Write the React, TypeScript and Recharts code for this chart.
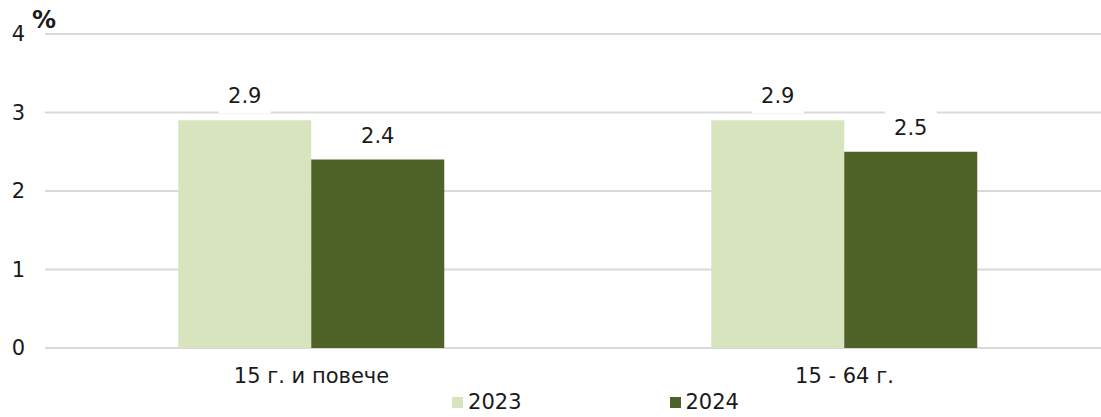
import { BarChart, Bar, XAxis, YAxis, CartesianGrid, Legend, LabelList } from "recharts";

const categories = ["15 г. и повече", "15 - 64 г."];
const values2023 = [2.9, 2.9];
const values2024 = [2.4, 2.5];
const yTicks = [0, 1, 2, 3, 4];
const seriesNames = ["2023", "2024"];

const data = categories.map((name, i) => ({
  name,
  v2023: values2023[i],
  v2024: values2024[i],
}));

const FONT = "'DejaVu Sans', Verdana, sans-serif";
const TEXT = "#1a1a1a";
const LIGHT = "#d7e4bd";
const DARK = "#4f6228";
const FS = 21;

const ValueLabel = (props: any) => {
  const { x, y, width, value } = props;
  const cx = Number(x) + Number(width) / 2;
  const cy = Number(y) - 24;
  return (
    <g>
      <rect x={cx - 26} y={cy - 17} width={52} height={34} fill="#fff" />
      <text
        x={cx}
        y={cy}
        textAnchor="middle"
        dominantBaseline="central"
        fontSize={FS}
        fontFamily={FONT}
        fill={TEXT}
      >
        {Number(value).toFixed(1)}
      </text>
    </g>
  );
};

const LegendContent = () => (
  <div
    style={{
      display: "flex",
      justifyContent: "center",
      paddingLeft: 80,
      gap: 148,
      fontFamily: FONT,
      fontSize: FS,
      color: TEXT,
      lineHeight: "29px",
    }}
  >
    {seriesNames.map((s, i) => (
      <div key={s} style={{ display: "flex", alignItems: "center" }}>
        <span
          style={{
            display: "inline-block",
            width: 11,
            height: 11,
            background: i === 0 ? LIGHT : DARK,
            marginRight: 5,
          }}
        />
        {s}
      </div>
    ))}
  </div>
);

export default function App() {
  return (
    <div
      style={{
        position: "absolute",
        left: 0,
        top: 0,
        width: 1101,
        height: 417,
        overflow: "hidden",
        background: "#fff",
      }}
    >
      <BarChart
        width={1111}
        height={417}
        data={data}
        margin={{ top: 34, right: 0, bottom: 0, left: 0 }}
        barCategoryGap="25%"
        barGap={0}
      >
        <CartesianGrid vertical={false} stroke="#d9d9d9" strokeWidth={2} />
        <XAxis
          dataKey="name"
          axisLine={false}
          tickLine={false}
          tickSize={0}
          tickMargin={20}
          height={40}
          tick={{ fill: TEXT, fontSize: FS, fontFamily: FONT }}
        />
        <YAxis
          domain={[0, 4]}
          ticks={yTicks}
          axisLine={false}
          tickLine={false}
          tickSize={0}
          tickMargin={20}
          width={45}
          tick={{ fill: TEXT, fontSize: FS, fontFamily: FONT }}
        />
        <Legend verticalAlign="bottom" height={29} content={<LegendContent />} />
        <Bar dataKey="v2023" name="2023" fill={LIGHT} isAnimationActive={false}>
          <LabelList dataKey="v2023" content={<ValueLabel />} />
        </Bar>
        <Bar dataKey="v2024" name="2024" fill={DARK} isAnimationActive={false}>
          <LabelList dataKey="v2024" content={<ValueLabel />} />
        </Bar>
      </BarChart>
      <div
        style={{
          position: "absolute",
          left: 32,
          top: 6,
          fontFamily: FONT,
          fontSize: 24,
          fontWeight: "bold",
          color: TEXT,
        }}
      >
        %
      </div>
    </div>
  );
}
